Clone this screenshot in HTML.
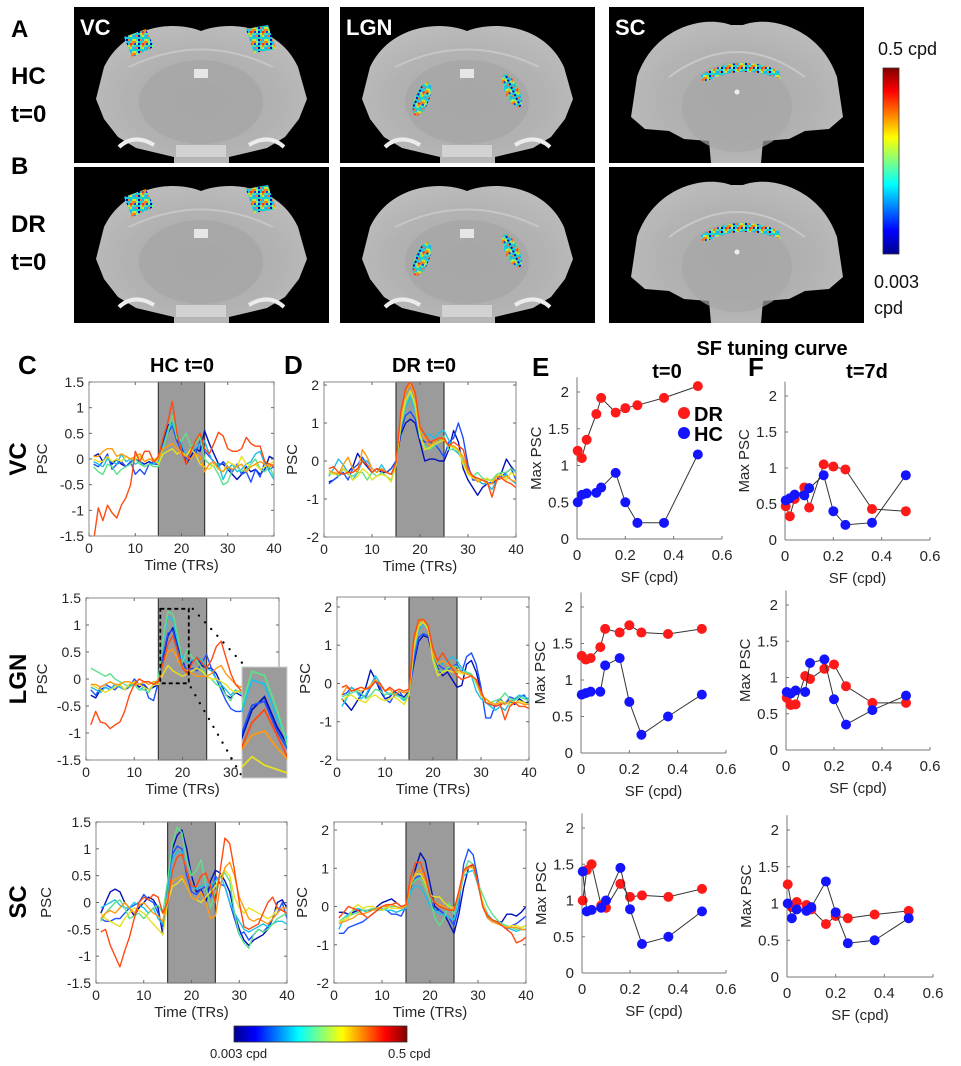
<!DOCTYPE html>
<html><head><meta charset="utf-8"><style>
html,body{margin:0;padding:0;background:#fff;}
svg{display:block;font-family:"Liberation Sans",sans-serif;}
</style></head><body>
<svg id="fig" width="961" height="1066" viewBox="0 0 961 1066" xmlns="http://www.w3.org/2000/svg">
<defs>
<linearGradient id="jetH" x1="0" x2="1" y1="0" y2="0">
<stop offset="0" stop-color="#00008f"/><stop offset="0.125" stop-color="#0000ff"/><stop offset="0.375" stop-color="#00ffff"/><stop offset="0.5" stop-color="#80ff80"/><stop offset="0.625" stop-color="#ffff00"/><stop offset="0.875" stop-color="#ff0000"/><stop offset="1" stop-color="#800000"/>
</linearGradient>
<linearGradient id="jetV" x1="0" x2="0" y1="1" y2="0">
<stop offset="0" stop-color="#00008f"/><stop offset="0.125" stop-color="#0000ff"/><stop offset="0.375" stop-color="#00ffff"/><stop offset="0.5" stop-color="#80ff80"/><stop offset="0.625" stop-color="#ffff00"/><stop offset="0.875" stop-color="#ff0000"/><stop offset="1" stop-color="#800000"/>
</linearGradient>
<radialGradient id="brainG" cx="0.5" cy="0.55" r="0.6">
<stop offset="0" stop-color="#a9a9a9"/><stop offset="0.6" stop-color="#b2b2b2"/><stop offset="1" stop-color="#bdbdbd"/>
</radialGradient>
<pattern id="roi" width="12" height="12" patternUnits="userSpaceOnUse"></pattern>
</defs>
<g id="root"></g>
</svg>
<script>
// ---------- time-series data (PSC per TR, t = 1..40) ----------
const tsColors7 = ["#0010b8","#1e50ff","#1cc0e8","#5ee08a","#e8e020","#ff9a10","#ff4a10"];
const cVC = [
[0.05,0.1,-0.05,0.05,-0.1,0,-0.1,-0.15,-0.05,0,-0.05,-0.1,-0.05,-0.1,-0.1,0.3,0.65,0.7,0.35,0.3,-0.1,0.05,0.2,0.15,0.55,0.3,0.1,-0.1,-0.1,-0.2,-0.3,-0.4,-0.3,-0.15,-0.25,-0.2,-0.3,-0.2,0.05,0],
[-0.1,-0.15,-0.05,0.1,-0.2,-0.1,-0.05,-0.15,-0.05,-0.3,-0.2,-0.3,-0.1,-0.05,-0.1,0.2,0.5,0.65,0.35,0.15,0,0.2,0.1,0.35,0.15,0.05,-0.05,-0.15,-0.05,-0.15,-0.25,-0.1,-0.3,-0.25,-0.45,-0.2,-0.35,-0.05,-0.2,-0.15],
[-0.05,-0.1,-0.15,0.0,-0.05,-0.1,0.1,-0.05,0,-0.1,-0.05,-0.15,-0.1,-0.1,-0.05,0.25,0.55,0.7,0.45,0.3,0.05,0.15,0.2,0.3,0.35,0.1,-0.1,-0.1,-0.4,-0.2,-0.1,-0.25,-0.2,-0.1,-0.05,0.1,0.15,-0.1,-0.25,-0.4],
[-0.15,-0.25,-0.3,-0.1,-0.15,-0.3,-0.2,-0.15,-0.1,0,-0.1,-0.15,-0.1,-0.15,-0.15,0.2,0.5,0.85,0.4,0.35,0.5,0.25,0.3,0.45,0,-0.1,-0.15,-0.3,-0.5,-0.45,-0.2,-0.15,-0.25,-0.2,-0.1,0,-0.2,-0.25,-0.15,-0.35],
[0,-0.05,-0.05,0.05,-0.05,0,-0.05,0.05,0,0,0.05,-0.05,0,0,-0.1,0.1,0.15,0.2,0.1,0.15,0.05,0.2,0.1,-0.1,-0.15,-0.2,-0.1,-0.2,-0.25,-0.05,-0.1,-0.15,0.05,-0.1,-0.15,-0.1,-0.2,-0.15,-0.1,-0.05],
[0.05,0.05,0.15,0.2,0.2,0.05,0.1,0.05,0,0.05,0.1,-0.05,0,-0.05,0,0.2,0.25,0.3,0.2,0.1,0.05,0,0.1,0.05,-0.25,-0.1,-0.05,-0.2,-0.25,-0.15,-0.2,-0.15,-0.1,-0.25,-0.15,-0.1,-0.05,-0.1,-0.15,-0.1],
[-1.6,-0.95,-1.2,-0.9,-1.05,-1.15,-0.9,-0.75,-0.5,0.15,-0.05,0.15,0.15,-0.05,0.05,0.4,0.7,1.12,0.5,0.15,-0.1,0.15,0.35,0.5,0.2,0.1,0.3,0.52,0.45,0.2,0.15,0.15,0.2,0.42,0.3,0.25,0.25,-0.05,-0.1,-0.15]
];
const dVC = [
[-0.55,-0.5,-0.4,-0.2,-0.3,-0.15,0.2,0,-0.15,-0.3,-0.2,-0.3,-0.3,-0.2,0.0,0.7,1.0,1.1,1.0,0.5,0.0,0.05,0.05,0.0,0.0,0.3,0.8,0.5,-0.2,-0.5,-0.7,-0.9,-0.7,-0.6,-0.6,-0.5,-0.3,0.05,-0.15,-0.3],
[-0.6,-0.5,-0.4,-0.3,-0.5,-0.2,-0.1,0.1,-0.1,-0.3,-0.2,-0.25,-0.3,-0.2,0.0,0.8,1.2,1.3,1.1,0.6,0.5,0.5,0.45,0.3,0.1,0.5,0.6,1.0,0.6,-0.1,-0.5,-0.5,-0.6,-0.6,-0.55,-0.5,-0.4,-0.3,-0.2,-0.5],
[-0.4,-0.2,0.05,-0.1,-0.3,-0.5,-0.3,0.0,0.0,-0.2,-0.3,-0.1,-0.3,-0.35,-0.05,0.9,1.4,1.7,1.3,0.8,0.7,0.7,0.6,0.75,0.8,0.55,0.3,0.2,0.0,-0.2,-0.4,-0.5,-0.6,-0.6,-0.75,-0.5,-0.45,-0.35,-0.5,-0.6],
[-0.35,-0.3,-0.4,-0.2,-0.35,-0.4,-0.3,-0.3,-0.5,-0.3,-0.4,-0.3,-0.4,-0.5,-0.1,0.9,1.5,1.8,1.4,0.6,0.4,0.3,0.4,0.5,0.65,0.3,0.3,0.25,0.0,-0.3,-0.4,-0.3,-0.45,-0.5,-0.5,-0.35,-0.3,-0.3,-0.2,-0.3],
[-0.3,-0.35,-0.3,-0.2,-0.3,-0.5,-0.4,-0.2,-0.3,-0.5,-0.4,-0.35,-0.4,-0.55,-0.1,1.0,1.6,1.85,1.5,0.7,0.3,0.35,0.45,0.5,0.55,0.4,0.35,0.3,-0.1,-0.35,-0.45,-0.5,-0.5,-0.45,-0.55,-0.4,-0.35,-0.5,-0.3,-0.4],
[-0.25,-0.3,-0.35,-0.1,0.1,-0.2,-0.3,0.3,0.1,-0.2,-0.3,-0.2,-0.3,-0.35,-0.05,1.2,1.8,2.05,1.7,0.8,0.6,0.4,0.5,0.6,0.55,0.4,0.4,0.3,0.1,-0.3,-0.4,-0.55,-0.5,-0.6,-0.6,-0.4,-0.45,-0.4,-0.5,-0.55],
[-0.2,-0.15,-0.3,-0.35,-0.3,-0.3,-0.2,0.0,-0.1,-0.3,-0.2,-0.25,-0.3,-0.35,-0.05,1.3,1.9,2.1,1.8,0.9,0.7,0.5,0.55,0.6,0.6,0.4,0.5,0.4,0.3,-0.2,-0.4,-0.45,-0.5,-0.55,-0.95,-0.5,-0.45,-0.55,-0.6,-0.7]
];
const cLGN = [
[-0.3,-0.35,-0.2,-0.15,-0.2,-0.1,-0.15,-0.2,-0.1,-0.05,-0.15,-0.1,-0.2,-0.15,-0.1,0.4,0.8,0.95,0.6,0.35,0.1,0.35,0.4,0.25,0.2,0.2,0.1,-0.1,-0.3,-0.35,-0.25,-0.3,-0.35,-0.3,-0.2,-0.25,-0.3,-0.3,-0.2,-0.3],
[-0.2,-0.3,-0.15,-0.1,-0.15,-0.2,-0.1,-0.2,-0.15,0,-0.1,-0.1,-0.35,-0.4,-0.05,0.45,0.85,0.9,0.55,0.3,0.15,0.2,0.15,0.3,0.45,0.2,0.0,-0.2,-0.4,-0.55,-0.6,-0.6,-0.55,-0.4,-0.3,-0.3,-0.25,-0.3,-0.3,-0.3],
[-0.15,-0.2,-0.25,-0.15,-0.2,-0.1,-0.15,-0.2,-0.1,-0.1,-0.2,-0.15,-0.2,-0.1,0.0,0.7,1.15,1.1,0.7,0.4,0.3,0.35,0.4,0.35,0.2,0.15,0.0,-0.1,-0.2,-0.3,-0.2,-0.25,-0.35,-0.25,-0.2,-0.15,0.0,-0.1,-0.15,-0.2],
[0.2,0.15,0.1,0.05,0.1,0.0,-0.05,-0.1,-0.15,-0.1,-0.2,-0.2,-0.25,-0.1,0.0,0.75,1.25,1.2,0.8,0.3,0.55,0.4,0.35,0.2,0.05,0.0,-0.1,-0.15,-0.3,-0.4,-0.2,-0.25,-0.2,-0.1,0.0,-0.05,-0.1,-0.15,-0.2,-0.2],
[-0.1,-0.15,-0.2,-0.25,-0.2,-0.15,-0.1,-0.2,-0.1,-0.05,-0.1,-0.15,-0.2,-0.1,-0.1,0.1,0.25,0.15,0.1,0.05,0.1,0.15,0.2,0.15,0.05,0.0,0.0,-0.05,-0.1,-0.2,-0.25,-0.2,-0.3,-0.15,0.0,0.1,0.05,-0.1,-0.15,-0.1],
[-0.1,-0.1,-0.15,-0.1,-0.05,-0.1,-0.1,-0.05,-0.05,-0.1,-0.1,-0.05,-0.1,-0.05,-0.05,0.3,0.5,0.55,0.35,0.2,0.15,0.1,0.05,0.05,0.05,0.1,0.2,0.25,0.1,0.0,-0.1,-0.15,-0.1,-0.15,-0.2,-0.25,-0.2,-0.15,-0.1,-0.15],
[-0.85,-0.6,-0.8,-0.82,-0.92,-0.85,-0.8,-0.6,-0.3,-0.1,0.0,-0.05,-0.05,-0.1,-0.05,0.3,0.65,0.8,0.5,0.2,0.1,0.3,0.4,0.3,0.2,0.35,0.6,0.7,0.4,0.1,-0.1,-0.2,-0.3,-0.2,-0.15,-0.3,-0.25,-0.3,-0.2,-0.25]
];
const dLGN = [
[-0.4,-0.55,-0.7,-0.5,-0.3,-0.1,0.35,0.1,-0.2,-0.4,-0.35,-0.2,-0.3,-0.35,-0.2,0.5,1.1,1.25,1.2,0.7,0.4,0.2,0.3,0.1,-0.1,-0.05,0.5,0.6,0.3,-0.2,-0.5,-0.55,-0.6,-0.55,-0.5,-0.45,-0.55,-0.4,-0.5,-0.5],
[-0.3,-0.25,-0.1,-0.2,-0.3,-0.35,-0.1,0.05,-0.1,-0.4,-0.5,-0.3,-0.2,-0.4,-0.3,0.6,1.2,1.3,1.25,0.8,0.5,0.4,0.35,0.45,0.5,0.3,0.7,0.8,0.5,-0.1,-0.9,-0.9,-0.55,-0.4,-0.55,-0.35,-0.4,-0.35,-0.3,-0.5],
[-0.6,-0.4,-0.1,-0.2,-0.4,-0.3,-0.05,0.2,0.0,-0.2,-0.3,-0.25,-0.35,-0.45,-0.3,0.8,1.4,1.55,1.4,0.9,0.6,0.5,0.6,0.7,0.6,0.4,0.3,0.2,-0.2,-0.4,-0.5,-0.6,-0.7,-0.6,-0.7,-0.5,-0.4,-0.3,-0.35,-0.4],
[-0.35,-0.3,-0.25,-0.2,-0.25,-0.4,-0.3,-0.15,-0.2,-0.3,-0.25,-0.3,-0.35,-0.4,-0.25,0.9,1.5,1.7,1.45,0.7,0.35,0.3,0.4,0.45,0.45,0.3,0.3,0.25,0.0,-0.3,-0.4,-0.5,-0.45,-0.4,-0.25,-0.4,-0.45,-0.35,-0.4,-0.45],
[-0.45,-0.35,-0.3,-0.4,-0.45,-0.5,-0.35,-0.3,-0.4,-0.45,-0.4,-0.35,-0.45,-0.55,-0.3,0.9,1.5,1.6,1.4,0.6,0.2,0.3,0.35,0.3,0.3,0.25,0.25,0.2,0.05,-0.3,-0.5,-0.5,-0.55,-0.45,-0.5,-0.55,-0.5,-0.45,-0.5,-0.55],
[-0.3,-0.1,-0.2,-0.15,-0.2,-0.15,-0.05,0.1,-0.05,-0.2,-0.15,-0.3,-0.2,-0.25,-0.2,1.1,1.6,1.65,1.5,0.8,0.5,0.6,0.5,0.45,0.35,0.3,0.25,0.2,0.1,-0.3,-0.4,-0.5,-0.55,-0.5,-0.55,-0.45,-0.5,-0.5,-0.55,-0.55],
[-0.1,-0.05,-0.2,-0.15,-0.1,-0.15,-0.1,0.05,0.0,-0.2,-0.1,-0.2,-0.15,-0.2,-0.15,1.2,1.65,1.68,1.5,0.9,0.6,0.8,0.6,0.4,0.2,0.1,0.15,0.2,0.1,-0.2,-0.5,-0.55,-0.6,-0.55,-0.95,-0.6,-0.5,-0.6,-0.6,-0.65]
];
const cSC = [
[-0.2,0.0,0.2,0.25,0.2,0.0,-0.1,-0.25,-0.1,0.0,0.1,0.05,-0.1,-0.6,0.3,1.0,1.25,1.35,1.0,0.5,0.2,0.25,0.0,0.4,0.6,0.55,0.4,0.2,-0.2,-0.5,-0.7,-0.8,-0.7,-0.65,-0.6,-0.5,-0.3,0.0,0.05,-0.1],
[-0.3,-0.35,-0.35,-0.3,-0.3,-0.2,-0.1,-0.05,0.0,0.15,0.05,0.0,-0.2,-0.45,0.2,0.9,1.05,1.0,0.5,0.2,0.15,0.25,0.3,0.1,0.5,0.35,0.3,0.0,-0.3,-0.6,-0.55,-0.7,-0.6,-0.5,-0.55,-0.45,-0.3,-0.2,0.0,-0.3],
[-0.1,-0.05,0.0,0.05,-0.05,-0.1,-0.1,0.0,-0.05,-0.1,-0.2,-0.1,-0.3,-0.4,0.2,0.8,0.95,0.95,0.6,0.3,0.25,0.3,0.35,0.3,0.4,0.5,0.3,0.0,-0.2,-0.35,-0.5,-0.55,-0.5,-0.45,-0.4,-0.45,-0.4,-0.35,-0.35,-0.4],
[-0.35,-0.2,-0.1,0.0,0.05,-0.1,-0.3,-0.25,-0.2,-0.3,-0.2,-0.1,-0.05,-0.2,0.4,1.1,1.4,1.3,0.8,0.5,0.6,0.8,0.3,-0.1,0.2,0.5,0.55,0.4,-0.2,-0.6,-0.75,-0.85,-0.6,-0.5,-0.55,-0.5,-0.4,-0.3,-0.25,-0.2],
[-0.2,-0.3,-0.35,-0.4,-0.45,-0.3,-0.2,-0.1,-0.15,-0.2,-0.3,-0.4,-0.5,-0.6,0.0,0.3,0.35,0.45,0.3,0.1,0.05,0.0,0.1,0.2,0.3,0.5,0.6,0.5,0.1,-0.1,-0.2,-0.1,-0.15,-0.2,-0.25,-0.3,-0.25,-0.1,-0.15,-0.2],
[-0.3,-0.2,-0.15,-0.2,-0.1,0.0,-0.1,-0.2,-0.05,0.0,-0.1,-0.2,-0.25,-0.35,0.1,0.4,0.45,0.5,0.3,0.1,0.05,0.2,0.0,-0.3,-0.25,0.3,0.65,0.75,0.5,0.1,-0.1,-0.3,-0.35,-0.3,-0.35,-0.4,-0.3,-0.2,-0.1,-0.1],
[-0.55,-0.5,-0.8,-1.0,-1.2,-0.9,-0.65,-0.3,0.0,0.1,0.05,0.15,0.1,-0.2,0.0,0.6,0.85,0.9,0.6,0.3,0.3,0.5,0.55,0.3,0.0,0.6,1.2,1.1,0.6,0.0,-0.45,-0.5,-0.45,-0.4,-0.2,0.0,0.1,-0.1,-0.15,-0.2]
];
const dSC = [
[-0.15,-0.15,-0.2,-0.15,-0.1,-0.1,-0.1,-0.1,0.0,0.1,0.15,0.2,0.1,0.0,-0.05,0.5,1.0,1.4,1.2,0.6,0.0,-0.1,-0.2,-0.45,-0.7,-0.2,0.5,1.0,1.1,0.6,0.0,-0.3,-0.4,-0.4,-0.4,-0.2,-0.2,-0.25,-0.15,0.0],
[-0.7,-0.7,-0.55,-0.5,-0.45,-0.4,-0.3,-0.2,-0.1,-0.05,-0.1,-0.2,-0.2,-0.25,0.0,0.5,0.75,0.8,0.6,0.2,-0.1,-0.1,-0.2,-0.3,-0.5,0.0,1.1,1.5,1.35,0.7,0.0,-0.3,-0.35,-0.4,-0.5,-0.6,-0.5,-0.45,-0.35,-0.25],
[-0.6,-0.3,-0.2,-0.1,-0.05,-0.1,-0.15,-0.1,-0.05,-0.05,-0.1,-0.1,-0.15,-0.1,-0.05,0.4,0.55,0.5,0.3,0.0,-0.1,-0.2,-0.2,-0.3,-0.35,0.2,0.8,0.9,0.95,0.55,0.1,-0.2,-0.35,-0.45,-0.5,-0.55,-0.6,-0.65,-0.6,-0.6],
[-0.4,-0.3,-0.25,-0.2,-0.15,-0.1,-0.1,-0.05,-0.1,-0.1,-0.05,0.0,0.0,-0.05,0.0,0.55,0.7,0.75,0.5,0.2,-0.3,-0.5,-0.3,0.1,-0.2,0.3,0.9,1.2,1.1,0.6,0.3,0.0,-0.2,-0.35,-0.45,-0.5,-0.55,-0.6,-0.55,-0.5],
[-0.4,-0.35,-0.3,-0.05,0.05,-0.05,0.0,0.0,-0.05,-0.1,0.0,-0.05,-0.05,-0.05,0.05,0.6,0.85,0.85,0.6,0.3,0.25,0.25,0.1,0.0,-0.05,0.3,0.85,1.05,1.0,0.6,0.1,-0.25,-0.4,-0.45,-0.5,-0.55,-0.5,-0.5,-0.55,-0.5],
[-0.45,-0.4,-0.35,-0.3,-0.2,-0.2,-0.15,-0.1,-0.05,0.0,0.0,0.05,0.0,-0.05,0.0,0.6,0.9,0.95,0.7,0.3,0.1,0.05,0.0,-0.1,-0.05,0.3,0.9,1.0,1.05,0.6,0.0,-0.3,-0.4,-0.45,-0.5,-0.55,-0.55,-0.55,-0.6,-0.6],
[-0.3,-0.15,0.0,-0.05,-0.1,-0.2,-0.3,-0.2,-0.1,0.0,0.05,0.05,0.1,0.0,0.05,0.8,1.15,1.15,0.8,0.3,0.1,0.0,-0.05,-0.1,-0.1,0.4,0.95,1.05,1.1,0.6,0.0,-0.25,-0.35,-0.4,-0.5,-0.6,-0.7,-0.95,-0.9,-0.8]
];
const timeTicks = [0,10,20,30,40];
const stimOn = 15, stimOff = 25;
const cTicks = [-1.5,-1,-0.5,0,0.5,1,1.5];
const cTickLabels = ["-1.5","-1","-0.5","0","0.5","1","1.5"];
const dTicks = [-2,-1,0,1,2];
const dTickLabels = ["-2","-1","0","1","2"];

// ---------- SF tuning data ----------
const sfValues = [0.003,0.02,0.04,0.08,0.1,0.16,0.2,0.25,0.36,0.5];
const eVC_DR = [1.2,1.1,1.35,1.7,1.92,1.72,1.78,1.82,1.92,2.08];
const eVC_HC = [0.5,0.6,0.62,0.63,0.7,0.9,0.5,0.22,0.22,1.15];
const fVC_DR = [0.47,0.33,0.57,0.73,0.45,1.05,1.02,0.98,0.43,0.4];
const fVC_HC = [0.55,0.58,0.63,0.62,0.72,0.9,0.4,0.21,0.24,0.9];
const eLGN_DR = [1.33,1.28,1.3,1.45,1.7,1.65,1.75,1.65,1.63,1.7];
const eLGN_HC = [0.8,0.82,0.84,0.84,1.2,1.3,0.7,0.25,0.5,0.8];
const fLGN_DR = [0.72,0.62,0.63,1.02,0.98,1.12,1.18,0.88,0.65,0.65];
const fLGN_HC = [0.8,0.78,0.82,0.8,1.2,1.25,0.7,0.35,0.55,0.75];
const eSC_DR = [1.0,1.42,1.5,0.93,0.9,1.23,1.05,1.07,1.05,1.16];
const eSC_HC = [1.4,0.85,0.87,0.9,1.0,1.45,0.88,0.4,0.5,0.85];
const fSC_DR = [1.26,0.95,1.02,0.98,0.92,0.72,0.83,0.8,0.85,0.9];
const fSC_HC = [1.0,0.8,0.92,0.9,0.95,1.3,0.88,0.46,0.5,0.8];
const sfXTicks = [0,0.2,0.4,0.6];
const sfXTickLabels = ["0","0.2","0.4","0.6"];
const sfYTicks = [0,0.5,1,1.5,2];
const sfYTickLabels = ["0","0.5","1","1.5","2"];

const NS = "http://www.w3.org/2000/svg";
const root = document.getElementById("root");
function el(tag, attrs, parent, text){
  const e = document.createElementNS(NS, tag);
  for (const k in attrs) e.setAttribute(k, attrs[k]);
  if (text !== undefined) e.textContent = text;
  (parent || root).appendChild(e);
  return e;
}
function txt(x,y,s,size,opts,parent){
  const o = Object.assign({x:x,y:y,"font-size":size,fill:"#262626"}, opts||{});
  return el("text", o, parent, s);
}

(function(){
  const pat = document.getElementById("roi");
  const cols = ["#1040ff","#20c0f0","#e8e020","#50e0a0","#0010c0","#ff8010","#30a0ff","#a0f060","#ff3010","#18d0d0"];
  for (let i=0;i<6;i++) for (let j=0;j<6;j++){
    el("rect",{x:i*2,y:j*2,width:2,height:2,fill:cols[(i*7+j*3+i*j)%cols.length]},pat);
  }
})();

const brainPath = "M127 24 C100 13 50 18 30 60 L22 92 L30 112 L44 130 L62 141 L100 150 L100 156 L155 156 L155 150 L193 141 L211 130 L225 112 L233 92 L224 60 C205 18 155 13 127 24 Z";
const scPath = "M122 18 C95 8 45 20 28 70 L22 110 L36 122 L60 124 L75 132 L100 134 L102 156 L152 156 L154 134 L180 132 L196 124 L220 122 L234 110 L228 70 C211 20 160 8 134 18 Z";
function brainPanel(px, py, kind, label, name){
  const g = el("g",{transform:`translate(${px},${py})`});
  
  
  el("rect",{x:0,y:0,width:255,height:156,fill:"#000"},g);
  el("path",{d: kind==="SC"?scPath:brainPath, fill:"url(#brainG)"},g);
  if (kind==="SC"){
    el("ellipse",{cx:128,cy:100,rx:55,ry:45,fill:"#a6a6a6",opacity:0.7},g);
    el("path",{d:"M60 70 Q128 20 196 70",fill:"none",stroke:"#c8c8c8","stroke-width":2},g);
    el("circle",{cx:128,cy:85,r:2.5,fill:"#eee"},g);
  } else {
    el("ellipse",{cx:127,cy:95,rx:62,ry:42,fill:"#a5a5a5",opacity:0.7},g);
    el("path",{d:"M55 60 Q127 25 199 60",fill:"none",stroke:"#c6c6c6","stroke-width":2},g);
    el("rect",{x:120,y:62,width:14,height:9,fill:"#e6e6e6"},g);
    el("path",{d:"M45 140 Q60 126 80 138 M175 138 Q195 126 210 140",fill:"none",stroke:"#ececec","stroke-width":4},g);
    el("rect",{x:102,y:138,width:50,height:12,fill:"#d2d2d2"},g);
  }
  const roiStyle = {fill:"url(#roi)"};
  if (kind==="VC"){
    el("path",Object.assign({d:"M50 30 L72 22 L80 40 L58 50 Z"},roiStyle),g);
    el("path",Object.assign({d:"M172 22 L194 18 L202 42 L180 46 Z"},roiStyle),g);
  } else if (kind==="LGN"){
    el("ellipse",Object.assign({cx:82,cy:92,rx:7,ry:18,transform:"rotate(22 82 92)"},roiStyle),g);
    el("ellipse",Object.assign({cx:172,cy:84,rx:7,ry:18,transform:"rotate(-25 172 84)"},roiStyle),g);
  } else {
    el("path",Object.assign({d:"M92 68 Q130 46 170 64 L172 72 Q130 56 94 76 Z"},roiStyle),g);
  }
  txt(6,28,label,22,{fill:"#fff","font-weight":"bold"},g);
}
const brainNames = ["VC","LGN","SC"];
const brainX = [74,340,609];
const brainY = [7,167];
for (let r=0;r<2;r++) for (let c=0;c<3;c++){
  brainPanel(brainX[c], brainY[r], brainNames[c], r===0?brainNames[c]:"", `brain-${brainNames[c].toLowerCase()}-${r===0?"hc":"dr"}`);
}
[["A",11,37,"panel-label-a"],["HC",11,84,"row-label-hc"],["t=0",11,122,"row-label-hc-time"],["B",11,174,"panel-label-b"],["DR",11,232,"row-label-dr"],["t=0",11,270,"row-label-dr-time"]].forEach(a=>{
  const t = txt(a[1],a[2],a[0],24,{"font-weight":"bold",fill:"#000"});
  
  
});
const cbT = el("rect",{x:883,y:68,width:16,height:186,fill:"url(#jetV)",stroke:"#333","stroke-width":0.8});


txt(878,55,"0.5 cpd",18,{fill:"#111"});
txt(874,288,"0.003",18,{fill:"#111"});
txt(874,314,"cpd",18,{fill:"#111"});

let clipId = 0;
function tsPanel(L, series, colors, dMin, dMax, ticks, tickLabels, name, yLabX, inset){
  const g = el("g",{});
  
  
  const sx = t => L.x0 + t/40*(L.x1-L.x0);
  const sy = v => L.yB - (v-dMin)/(dMax-dMin)*(L.yB-L.yT);
  el("rect",{x:L.x0,y:L.yT,width:L.x1-L.x0,height:L.yB-L.yT,fill:"#fff"},g);
  const sh = el("rect",{x:sx(stimOn),y:L.yT,width:sx(stimOff)-sx(stimOn),height:L.yB-L.yT,fill:"#9b9b9b",stroke:"#3a3a3a","stroke-width":1.2},g);
  
  
  const id = "clip"+(clipId++);
  const cp = el("clipPath",{id:id},g);
  el("rect",{x:L.x0,y:L.yT,width:L.x1-L.x0,height:L.yB-L.yT},cp);
  const lg = el("g",{"clip-path":`url(#${id})`},g);
  series.forEach((s,i)=>{
    const d = s.map((v,k)=>(k?"L":"M")+sx(k+1).toFixed(1)+" "+sy(v).toFixed(1)).join(" ");
    const p = el("path",{d:d,fill:"none",stroke:colors[i],"stroke-width":1.4,"stroke-linejoin":"round"},lg);
    
    
  });
  el("rect",{x:L.x0,y:L.yT,width:L.x1-L.x0,height:L.yB-L.yT,fill:"none",stroke:"#8a8a8a","stroke-width":1},g);
  timeTicks.forEach(t=>{
    el("line",{x1:sx(t),x2:sx(t),y1:L.yB,y2:L.yB-3,stroke:"#666"},g);
    el("line",{x1:sx(t),x2:sx(t),y1:L.yT,y2:L.yT+3,stroke:"#666"},g);
    txt(sx(t),L.yB+17,String(t),14,{"text-anchor":"middle"},g);
  });
  ticks.forEach((v,i)=>{
    el("line",{x1:L.x0,x2:L.x0+3,y1:sy(v),y2:sy(v),stroke:"#666"},g);
    el("line",{x1:L.x1,x2:L.x1-3,y1:sy(v),y2:sy(v),stroke:"#666"},g);
    txt(L.x0-5,sy(v)+5,tickLabels[i],14,{"text-anchor":"end"},g);
  });
  const xl = txt((L.x0+L.x1)/2,L.yB+34,"Time (TRs)",15,{"text-anchor":"middle"},g);
  
  
  const ym = (L.yT+L.yB)/2;
  const yl = txt(yLabX,ym,"PSC",15,{"text-anchor":"middle",transform:`rotate(-90 ${yLabX} ${ym})`},g);
  
  
  if (inset){
    const t0=15.4,t1=21.3,v0=-0.08,v1=1.3;
    el("rect",{x:sx(t0),y:sy(v1),width:sx(t1)-sx(t0),height:sy(v0)-sy(v1),fill:"none",stroke:"#000","stroke-width":1.8,"stroke-dasharray":"4 3"},g);
    const I = {x:242,y:667,w:45,h:111};
    el("line",{x1:sx(t1)+4,y1:sy(v1),x2:I.x+2,y2:I.y-2,stroke:"#000","stroke-width":2.2,"stroke-dasharray":"0.1 9","stroke-linecap":"round"},g);
    el("line",{x1:sx(t1)+2,y1:sy(v0)+4,x2:I.x+2,y2:I.y+I.h+2,stroke:"#000","stroke-width":2.2,"stroke-dasharray":"0.1 9","stroke-linecap":"round"},g);
    const ig = el("g",{},g);
    
    
    el("rect",{x:I.x,y:I.y,width:I.w,height:I.h,fill:"#9b9b9b",stroke:"#ccc"},ig);
    const iid = "clip"+(clipId++);
    const icp = el("clipPath",{id:iid},ig);
    el("rect",{x:I.x,y:I.y,width:I.w,height:I.h},icp);
    const il = el("g",{"clip-path":`url(#${iid})`},ig);
    const ix = t => I.x + (t-16.2)/(19.8-16.2)*I.w;
    const iy = v => I.y+I.h - (v-0.0)/(1.3-0.0)*I.h;
    series.forEach((s,i)=>{
      const d = s.map((v,k)=>(k?"L":"M")+ix(k+1).toFixed(1)+" "+iy(v).toFixed(1)).join(" ");
      el("path",{d:d,fill:"none",stroke:colors[i],"stroke-width":1.8},il);
    });
  }
}
tsPanel({x0:89,x1:274,yT:382,yB:536}, cVC, tsColors7, -1.5, 1.5, cTicks, cTickLabels, "chart-c-vc", 47, false);
tsPanel({x0:324,x1:516,yT:382,yB:537}, dVC, tsColors7, -2, 2.08, dTicks, dTickLabels, "chart-d-vc", 297, false);
tsPanel({x0:86,x1:279,yT:598,yB:760}, cLGN, tsColors7, -1.5, 1.5, cTicks, cTickLabels, "chart-c-lgn", 47, true);
tsPanel({x0:337,x1:529,yT:597,yB:760}, dLGN, tsColors7, -2, 2.26, dTicks, dTickLabels, "chart-d-lgn", 310, false);
tsPanel({x0:96,x1:287,yT:822,yB:983}, cSC, tsColors7, -1.5, 1.5, cTicks, cTickLabels, "chart-c-sc", 51, false);
tsPanel({x0:334,x1:526,yT:822,yB:983}, dSC, tsColors7, -2, 2.21, dTicks, dTickLabels, "chart-d-sc", 307, false);

[["C",18,374,26,"panel-label-c"],["D",284,374,26,"panel-label-d"],["E",532,376,26,"panel-label-e"],["F",748,376,26,"panel-label-f"]].forEach(a=>{
  const t = txt(a[1],a[2],a[0],a[3],{"font-weight":"bold",fill:"#000"});
  
  
});
[["HC t=0",182,372,"title-hc"],["DR t=0",424,372,"title-dr"],["SF tuning curve",772,355,"title-sf-tuning"],["t=0",667,378,"title-t0"],["t=7d",867,378,"title-t7d"]].forEach(a=>{
  const t = txt(a[1],a[2],a[0],20,{"font-weight":"bold",fill:"#000","text-anchor":"middle"});
  
  
});
[["VC",459,"row-label-vc"],["LGN",679,"row-label-lgn"],["SC",902,"row-label-sc"]].forEach(a=>{
  const t = txt(26,a[1],a[0],24,{"font-weight":"bold",fill:"#000","text-anchor":"middle",transform:`rotate(-90 26 ${a[1]})`});
  
  
});

const cbB = el("rect",{x:234,y:1026,width:173,height:16,fill:"url(#jetH)",stroke:"#333","stroke-width":0.8});


txt(210,1058,"0.003 cpd",13,{fill:"#222"});
txt(388,1058,"0.5 cpd",13,{fill:"#222"});

function sfPanel(L, dr, hc, name, legend){
  const g = el("g",{});
  
  
  const sx = v => L.x0 + v/0.6*(L.x1-L.x0);
  const sy = v => L.y0 - v/2*(L.y0-L.y2);
  const yTop = sy(2.2);
  el("line",{x1:L.x0,x2:L.x0,y1:yTop,y2:L.y0,stroke:"#777","stroke-width":1},g);
  el("line",{x1:L.x0,x2:L.x1,y1:L.y0,y2:L.y0,stroke:"#777","stroke-width":1},g);
  sfXTicks.forEach((v,i)=>{
    el("line",{x1:sx(v),x2:sx(v),y1:L.y0,y2:L.y0-3,stroke:"#777"},g);
    txt(sx(v),L.y0+21,sfXTickLabels[i],15,{"text-anchor":"middle"},g);
  });
  sfYTicks.forEach((v,i)=>{
    el("line",{x1:L.x0,x2:L.x0+3,y1:sy(v),y2:sy(v),stroke:"#777"},g);
    txt(L.x0-8,sy(v)+5,sfYTickLabels[i],15,{"text-anchor":"end"},g);
  });
  const xl = txt((L.x0+L.x1)/2,L.y0+43,"SF (cpd)",15,{"text-anchor":"middle"},g);
  
  
  const ym=(yTop+L.y0)/2, yx=L.x0-36;
  const yl = txt(yx,ym,"Max PSC",15,{"text-anchor":"middle",transform:`rotate(-90 ${yx} ${ym})`},g);
  
  
  [[dr,"#ff1a1a","dr"],[hc,"#1414ff","hc"]].forEach(s=>{
    const d = s[0].map((v,k)=>(k?"L":"M")+sx(sfValues[k]).toFixed(1)+" "+sy(v).toFixed(1)).join(" ");
    el("path",{d:d,fill:"none",stroke:"#333","stroke-width":1},g);
    s[0].forEach((v,k)=>{
      const c = el("circle",{cx:sx(sfValues[k]),cy:sy(v),r:5,fill:s[1]},g);
      
      
    });
  });
  if (legend){
    const lg = el("g",{},g);
    
    
    el("circle",{cx:684,cy:413,r:6,fill:"#ff1a1a"},lg);
    txt(694,421,"DR",20,{"font-weight":"bold",fill:"#000"},lg);
    el("circle",{cx:684,cy:433,r:6,fill:"#1414ff"},lg);
    txt(694,441,"HC",20,{"font-weight":"bold",fill:"#000"},lg);
  }
}
sfPanel({x0:577,x1:722,y0:539,y2:392}, eVC_DR, eVC_HC, "chart-e-vc", true);
sfPanel({x0:785,x1:930,y0:540,y2:396}, fVC_DR, fVC_HC, "chart-f-vc", false);
sfPanel({x0:581,x1:726,y0:753,y2:607}, eLGN_DR, eLGN_HC, "chart-e-lgn", false);
sfPanel({x0:786,x1:930,y0:750,y2:605}, fLGN_DR, fLGN_HC, "chart-f-lgn", false);
sfPanel({x0:582,x1:726,y0:973,y2:828}, eSC_DR, eSC_HC, "chart-e-sc", false);
sfPanel({x0:787,x1:933,y0:977,y2:830}, fSC_DR, fSC_HC, "chart-f-sc", false);
</script>
</body></html>
